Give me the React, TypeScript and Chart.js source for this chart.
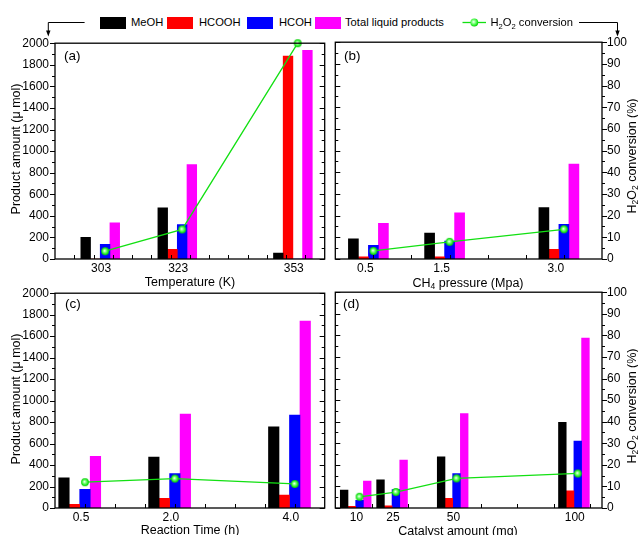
import React, { useEffect, useRef } from 'react';
import { Chart, registerables } from 'chart.js';

Chart.register(...registerables);

const FONT = '"Liberation Sans", Arial, Helvetica, sans-serif';
Chart.defaults.font.family = FONT;
Chart.defaults.color = '#000';

// ---------- data ----------
const seriesNames = ['MeOH', 'HCOOH', 'HCOH', 'Total liquid products'];
const seriesColors = ['#000000', '#ff0000', '#0000ff', '#ff00ff'];
const convName = 'H2O2 conversion';

// (a) temperature (K)
const tempX = [303, 323, 353];
const tempLabels = ['303', '323', '353'];
const tempMeOH = [200, 475, 55];
const tempHCOOH = [0, 90, 1880];
const tempHCOH = [135, 320, 0];
const tempTotal = [335, 875, 1935];
const tempConv = [3.6, 13.7, 100];

// (b) CH4 pressure (MPa)
const presX = [0.5, 1.5, 3.0];
const presLabels = ['0.5', '1.5', '3.0'];
const presMeOH = [185, 240, 475];
const presHCOOH = [20, 20, 90];
const presHCOH = [125, 165, 320];
const presTotal = [330, 425, 875];
const presConv = [3.7, 7.9, 13.7];

// (c) reaction time (h)
const timeX = [0.5, 2.0, 4.0];
const timeLabels = ['0.5', '2.0', '4.0'];
const timeMeOH = [280, 475, 755];
const timeHCOOH = [35, 90, 120];
const timeHCOH = [175, 320, 865];
const timeTotal = [480, 875, 1740];
const timeConv = [12.0, 13.7, 11.2];

// (d) catalyst amount (mg)
const catX = [10, 25, 50, 100];
const catLabels = ['10', '25', '50', '100'];
const catMeOH = [165, 260, 475, 795];
const catHCOOH = [15, 20, 90, 160];
const catHCOH = [70, 170, 320, 620];
const catTotal = [250, 445, 875, 1575];
const catConv = [5.2, 7.4, 13.7, 16.0];

// ---------- layout ----------
type PanelCfg = {
  id: string;
  xs: number[];
  labels: string[];
  series: number[][];
  conv: number[];
  xmin: number;
  xmax: number;
  xstep: number;
  barW: number;
  side: 'left' | 'right';
  box: { left: number; top: number; w: number; h: number };
  pad: { left: number; right: number; top: number; bottom: number };
  yW: number;
  xH: number;
  xPad: number;
  labelShift: number;
};

const panels: PanelCfg[] = [
  {
    id: 'a', xs: tempX, labels: tempLabels, series: [tempMeOH, tempHCOOH, tempHCOH, tempTotal], conv: tempConv,
    xmin: 290, xmax: 360, xstep: 5, barW: 9.7, side: 'left',
    box: { left: 0, top: 30, w: 330, h: 250 }, pad: { left: 0, right: 5, top: 12, bottom: 0 }, yW: 55, xH: 21, xPad: 2, labelShift: -4,
  },
  {
    id: 'b', xs: presX, labels: presLabels, series: [presMeOH, presHCOOH, presHCOH, presTotal], conv: presConv,
    xmin: 0, xmax: 3.5, xstep: 0.5, barW: 10, side: 'right',
    box: { left: 330, top: 30, w: 308, h: 250 }, pad: { left: 4, right: 0, top: 12, bottom: 0 }, yW: 36, xH: 21, xPad: 2, labelShift: -8,
  },
  {
    id: 'c', xs: timeX, labels: timeLabels, series: [timeMeOH, timeHCOOH, timeHCOH, timeTotal], conv: timeConv,
    xmin: 0, xmax: 4.5, xstep: 0.5, barW: 10.5, side: 'left',
    box: { left: 0, top: 280, w: 330, h: 255 }, pad: { left: 0, right: 5, top: 12, bottom: 0 }, yW: 55, xH: 27, xPad: 2.5, labelShift: -4,
  },
  {
    id: 'd', xs: catX, labels: catLabels, series: [catMeOH, catHCOOH, catHCOH, catTotal], conv: catConv,
    xmin: 0, xmax: 110, xstep: 15, barW: 7.7, side: 'right',
    box: { left: 330, top: 280, w: 308, h: 255 }, pad: { left: 4, right: 0, top: 12, bottom: 0 }, yW: 36, xH: 27, xPad: 2.5, labelShift: -3,
  },
];

// ---------- helpers ----------
function makeBall(r: number): HTMLCanvasElement {
  const c = document.createElement('canvas');
  const s = Math.ceil(r * 2 + 2);
  c.width = s;
  c.height = s;
  const g = c.getContext('2d')!;
  const cx = s / 2;
  const cy = s / 2;
  const grad = g.createRadialGradient(cx - 0.6, cy - 0.6, 0.2, cx, cy, r);
  grad.addColorStop(0, '#f4fff4');
  grad.addColorStop(0.35, '#80ff80');
  grad.addColorStop(0.8, '#18e818');
  grad.addColorStop(1, '#0cc40c');
  g.fillStyle = grad;
  g.beginPath();
  g.arc(cx, cy, r, 0, Math.PI * 2);
  g.fill();
  return c;
}

const framePlugin = {
  id: 'frame',
  afterDatasetsDraw(chart: any, _args: any, opts: any) {
    const { ctx, chartArea } = chart;
    const { left, right, top, bottom } = chartArea;
    const ys = chart.scales.y;
    const xs = chart.scales.x;
    ctx.save();
    ctx.strokeStyle = '#000';
    ctx.lineWidth = 1;
    ctx.beginPath();
    const outL = opts.side === 'left';
    for (let v = 0; v <= 2000; v += 100) {
      const py = Math.round(ys.getPixelForValue(v)) + 0.5;
      const len = v % 200 === 0 ? 5 : 3;
      ctx.moveTo(left, py);
      ctx.lineTo(outL ? left - len : left + len, py);
      ctx.moveTo(right, py);
      ctx.lineTo(outL ? right - len : right + len, py);
    }
    for (let v = opts.xmin + opts.xstep; v < opts.xmax - 1e-9; v += opts.xstep) {
      const px = Math.round(xs.getPixelForValue(v)) + 0.5;
      ctx.moveTo(px, bottom);
      ctx.lineTo(px, bottom - 4);
    }
    ctx.stroke();
    ctx.lineWidth = 1.3;
    ctx.strokeRect(left, top, right - left, bottom - top);
    ctx.restore();
  },
};

function Panel({ cfg }: { cfg: PanelCfg }) {
  const ref = useRef<HTMLCanvasElement>(null);
  useEffect(() => {
    const canvas = ref.current!;
    const ball = makeBall(3.9);
    const barSets: any[] = cfg.series.map((vals, i) => ({
      type: 'bar',
      label: seriesNames[i],
      data: cfg.xs.map((x, j) => ({ x, y: vals[j] })),
      backgroundColor: seriesColors[i],
      borderWidth: 0,
      barThickness: cfg.barW,
      order: 1,
      xAxisID: 'x',
      yAxisID: 'y',
    }));
    // empty slot so that the HCOH bar is centred on the x value (as in the figure)
    barSets.push({
      type: 'bar',
      label: '',
      data: cfg.xs.map((x) => ({ x, y: 0 })),
      backgroundColor: 'rgba(0,0,0,0)',
      borderWidth: 0,
      barThickness: cfg.barW,
      order: 1,
      xAxisID: 'x',
      yAxisID: 'y',
    });
    const lineSet: any = {
      type: 'line',
      label: convName,
      data: cfg.xs.map((x, j) => ({ x, y: cfg.conv[j] })),
      borderColor: '#12e012',
      borderWidth: 1.3,
      pointStyle: ball,
      pointRadius: 4,
      order: 0,
      clip: false,
      xAxisID: 'x',
      yAxisID: 'y1',
    };
    const showLeft = cfg.side === 'left';
    const plain = (v: any) => String(v);
    const chart = new Chart(canvas, {
      type: 'bar',
      data: { datasets: [lineSet, ...barSets] },
      plugins: [framePlugin],
      options: {
        responsive: false,
        animation: false,
        events: [],
        layout: { padding: cfg.pad },
        plugins: {
          legend: { display: false },
          tooltip: { enabled: false },
          frame: { side: cfg.side, xmin: cfg.xmin, xmax: cfg.xmax, xstep: cfg.xstep },
        } as any,
        scales: {
          x: {
            type: 'linear',
            min: cfg.xmin,
            max: cfg.xmax,
            offset: false,
            grid: { display: false, drawTicks: false },
            border: { display: false },
            ticks: {
              autoSkip: false,
              maxRotation: 0,
              padding: cfg.xPad,
              labelOffset: cfg.labelShift,
              font: { size: 12 },
              color: '#000',
              callback: (_v: any, i: number) => cfg.labels[i],
            },
            afterBuildTicks: (s: any) => {
              s.ticks = cfg.xs.map((v) => ({ value: v }));
            },
            afterFit: (s: any) => {
              s.height = cfg.xH;
            },
          },
          y: {
            type: 'linear',
            position: 'left',
            min: 0,
            max: 2000,
            display: showLeft,
            grid: { display: false, drawTicks: false },
            border: { display: false },
            ticks: { stepSize: 200, padding: 6, font: { size: 12 }, color: '#000', callback: plain },
            afterFit: (s: any) => {
              if (showLeft) s.width = cfg.yW;
            },
          },
          y1: {
            type: 'linear',
            position: 'right',
            min: 0,
            max: 100,
            display: !showLeft,
            grid: { display: false, drawTicks: false },
            border: { display: false },
            ticks: { stepSize: 10, padding: 5, font: { size: 12 }, color: '#000', callback: plain },
            afterFit: (s: any) => {
              if (!showLeft) s.width = cfg.yW;
            },
          },
        } as any,
      },
    } as any);
    return () => chart.destroy();
  }, [cfg]);
  return (
    <canvas
      ref={ref}
      width={cfg.box.w}
      height={cfg.box.h}
      style={{ position: 'absolute', left: cfg.box.left, top: cfg.box.top, width: cfg.box.w, height: cfg.box.h, display: 'block' }}
    />
  );
}

const subStyle: React.CSSProperties = { fontSize: '0.68em', verticalAlign: '-0.3em', lineHeight: 0 };

function Txt({ x, y, size, rot, anchor, children }: { x: number; y: number; size: number; rot?: number; anchor?: 'left' | 'center'; children: React.ReactNode }) {
  const tx = anchor === 'left' ? '0' : '-50%';
  return (
    <div
      style={{
        position: 'absolute',
        left: x,
        top: y,
        fontFamily: FONT,
        fontSize: size,
        color: '#000',
        whiteSpace: 'nowrap',
        lineHeight: 1,
        transform: `translate(${tx}, -50%)${rot ? ` rotate(${rot}deg)` : ''}`,
        transformOrigin: anchor === 'left' ? 'left center' : 'center center',
      }}
    >
      {children}
    </div>
  );
}

function Swatch({ x, color }: { x: number; color: string }) {
  return <div style={{ position: 'absolute', left: x, top: 16.5, width: 26, height: 12, background: color }} />;
}

export default function App() {
  const title = 12.5;
  const leg = 11.2;
  return (
    <div style={{ position: 'absolute', left: 0, top: 0, width: 638, height: 535, overflow: 'hidden', background: '#fff' }}>
      {panels.map((p) => (
        <Panel key={p.id} cfg={p} />
      ))}

      {/* legend */}
      <Swatch x={100} color={seriesColors[0]} />
      <Txt x={131} y={22.5} size={leg} anchor="left">{seriesNames[0]}</Txt>
      <Swatch x={167} color={seriesColors[1]} />
      <Txt x={199} y={22.5} size={leg} anchor="left">{seriesNames[1]}</Txt>
      <Swatch x={247} color={seriesColors[2]} />
      <Txt x={279} y={22.5} size={leg} anchor="left">{seriesNames[2]}</Txt>
      <Swatch x={315} color={seriesColors[3]} />
      <Txt x={345} y={22.5} size={leg} anchor="left">{seriesNames[3]}</Txt>
      <Txt x={490.5} y={22.5} size={leg} anchor="left">
        H<sub style={subStyle}>2</sub>O<sub style={subStyle}>2</sub> conversion
      </Txt>
      <svg width={638} height={535} style={{ position: 'absolute', left: 0, top: 0, pointerEvents: 'none' }}>
        <line x1={462.5} y1={22.5} x2={486} y2={22.5} stroke="#12e012" strokeWidth={1.3} />
        <defs>
          <radialGradient id="lg" cx="0.42" cy="0.42" r="0.6">
            <stop offset="0" stopColor="#f4fff4" />
            <stop offset="0.4" stopColor="#80ff80" />
            <stop offset="0.85" stopColor="#18e818" />
            <stop offset="1" stopColor="#0cc40c" />
          </radialGradient>
        </defs>
        <circle cx={474.3} cy={22.5} r={3.9} fill="url(#lg)" />
        <path d="M84.6 22.5 H48.3 V31" fill="none" stroke="#000" strokeWidth={1} />
        <polygon points="46.1,30.5 50.5,30.5 48.3,36.5" fill="#000" />
        <path d="M579 22.5 H617.5 V31" fill="none" stroke="#000" strokeWidth={1} />
        <polygon points="615.3,30.5 619.7,30.5 617.5,36.5" fill="#000" />
      </svg>

      {/* panel labels */}
      <Txt x={64} y={56} size={13.5} anchor="left">(a)</Txt>
      <Txt x={344} y={56} size={13.5} anchor="left">(b)</Txt>
      <Txt x={65} y={304} size={13.5} anchor="left">(c)</Txt>
      <Txt x={343} y={303.5} size={13.5} anchor="left">(d)</Txt>

      {/* axis titles */}
      <Txt x={16} y={149} size={title} rot={-90}>Product amount (μ mol)</Txt>
      <Txt x={16} y={399} size={title} rot={-90}>Product amount (μ mol)</Txt>
      <Txt x={632} y={156} size={title} rot={-90}>
        H<sub style={subStyle}>2</sub>O<sub style={subStyle}>2</sub> conversion (%)
      </Txt>
      <Txt x={632} y={406} size={title} rot={-90}>
        H<sub style={subStyle}>2</sub>O<sub style={subStyle}>2</sub> conversion (%)
      </Txt>
      <Txt x={190} y={281.5} size={title}>Temperature (K)</Txt>
      <Txt x={468} y={283} size={title}>
        CH<sub style={subStyle}>4</sub> pressure (Mpa)
      </Txt>
      <Txt x={190} y={530} size={title}>Reaction Time (h)</Txt>
      <Txt x={458} y={530.5} size={title}>Catalyst amount (mg)</Txt>
    </div>
  );
}
